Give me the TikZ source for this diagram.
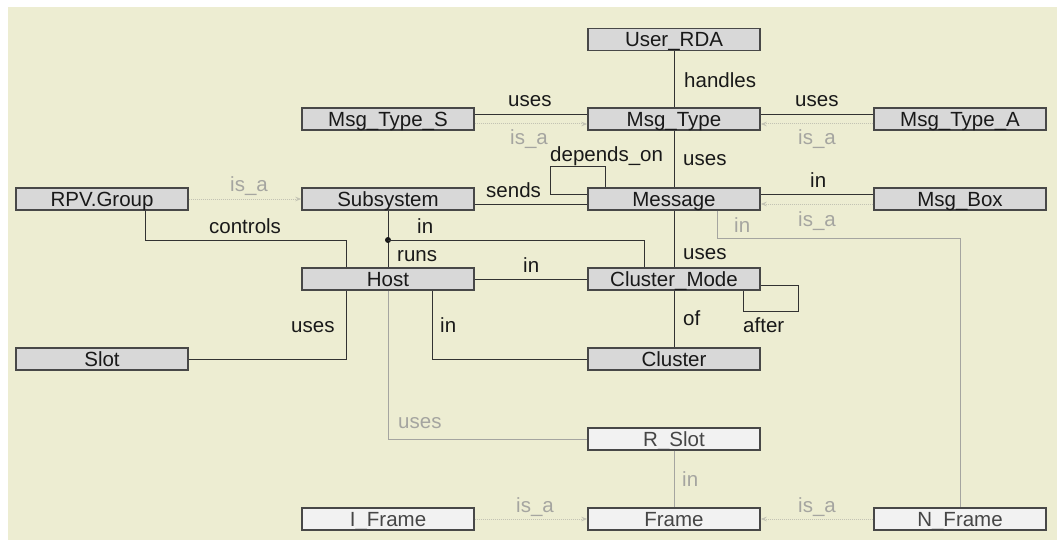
\documentclass[tikz,border=0pt]{standalone}
\usepackage{fontspec}
\setmainfont{Liberation Sans}
\usetikzlibrary{arrows.meta}

\definecolor{bg}{RGB}{237,237,210}
\definecolor{boxdark}{RGB}{216,216,216}
\definecolor{boxlight}{RGB}{242,242,242}
\definecolor{edge}{RGB}{72,72,72}
\definecolor{ink}{RGB}{25,25,25}
\definecolor{wire}{RGB}{50,50,50}
\definecolor{weakink}{RGB}{70,70,70}
\definecolor{fade}{RGB}{165,165,160}
\definecolor{isaline}{RGB}{195,195,180}

\tikzset{
  entity/.style={rectangle, draw=edge, line width=1.4pt, minimum width=172pt,
    minimum height=22pt, inner sep=0pt, text height=17pt, text depth=2pt,
    font=\fontsize{20.5}{24}\selectfont},
  strong/.style={entity, fill=boxdark, text=ink},
  weak/.style={entity, fill=boxlight, text=weakink},
  rel/.style={draw=wire, line width=0.9pt},
  relgray/.style={draw=fade, line width=1pt},
  isa/.style={draw=isaline, line width=1pt, dash pattern=on 1pt off 1pt,
    -{Stealth[length=6pt,width=4.5pt]}},
  lbl/.style={anchor=base west, inner sep=0pt, font=\fontsize{20.5}{24}\selectfont, text=ink},
  lblgray/.style={lbl, text=fade},
}

\begin{document}
\begin{tikzpicture}[x=1pt, y=-1pt]
  % canvas
  \useasboundingbox (0,0) rectangle (1059,540);
  \fill[white] (0,0) rectangle (1059,540);
  \fill[bg] (8,7) rectangle (1057,540);

  % entities
  \node[strong] (ur)   at (674,39.5) {User\_RDA};
  \node[strong] (mts)  at (388,119) {Msg\_Type\_S};
  \node[strong] (mt)   at (674,119) {Msg\_Type};
  \node[strong] (mta)  at (960,119) {Msg\_Type\_A};
  \node[strong] (rpv)  at (102,199) {RPV.Group};
  \node[strong] (sub)  at (388,199) {Subsystem};
  \node[strong] (msg)  at (674,199) {Message};
  \node[strong] (mb)   at (960,199) {Msg\_Box};
  \node[strong] (host) at (388,279) {Host};
  \node[strong] (cm)   at (674,279) {Cluster\_Mode};
  \node[strong] (slot) at (102,359) {Slot};
  \node[strong] (cl)   at (674,359) {Cluster};
  \node[weak]   (rs)   at (674,439) {R\_Slot};
  \node[weak]   (ifr)  at (388,519) {I\_Frame};
  \node[weak]   (fr)   at (674,519) {Frame};
  \node[weak]   (nf)   at (960,519) {N\_Frame};

  % relations
  \draw[rel] (ur) -- (mt);
  \draw[rel] ([yshift=5pt]mts.east) -- ([yshift=5pt]mt.west);
  \draw[isa] ([yshift=-5pt]mts.east) -- ([yshift=-5pt]mt.west);
  \draw[rel] ([yshift=5pt]mta.west) -- ([yshift=5pt]mt.east);
  \draw[isa] ([yshift=-5pt]mta.west) -- ([yshift=-5pt]mt.east);
  \draw[rel] (mt) -- (msg);
  \draw[rel] ([xshift=-69pt]msg.north) -- ++(0,-21) -- ++(-55,0) |- ([yshift=5pt]msg.west);
  \draw[rel] ([yshift=-5pt]sub.east) -- ([yshift=-5pt]msg.west);
  \draw[rel] ([yshift=5pt]mb.west) -- ([yshift=5pt]msg.east);
  \draw[isa] ([yshift=-5pt]mb.west) -- ([yshift=-5pt]msg.east);
  \draw[relgray] ([xshift=43pt]msg.south) |- (960,238) -- (nf.north);
  \draw[isa] (rpv) -- (sub);
  \draw[rel] ([xshift=43pt]rpv.south) |- (346,240) -- ([xshift=-42pt]host.north);
  \draw[rel] (slot.east) -| ([xshift=-42pt]host.south);
  \draw[rel] (sub) -- (host);
  \coordinate (jn) at (388,240);
  \fill[ink] (jn) circle (3pt);
  \draw[rel] (jn) -| ([xshift=-30pt]cm.north);
  \draw[rel] (host) -- (cm);
  \draw[rel] ([xshift=44pt]host.south) |- (cl.west);
  \draw[rel] (msg) -- (cm);
  \draw[rel] (cm) -- (cl);
  \draw[rel] ([yshift=-6pt]cm.east) -- ++(38,0) -- ++(0,26) -| ([xshift=69pt]cm.south);
  \draw[relgray] (host.south) |- (rs.west);
  \draw[relgray] (rs) -- (fr);
  \draw[isa] (ifr) -- (fr);
  \draw[isa] (nf) -- (fr);

  % relation labels
  \node[lbl] (t1) at (684,88) {handles};
  \node[lbl] (t2) at (508,107) {uses};
  \node[lblgray] (t3) at (510,145) {is\_a};
  \node[lbl] (t4) at (795,107) {uses};
  \node[lblgray] (t5) at (798,145) {is\_a};
  \node[lbl] (t6) at (683,166) {uses};
  \node[lbl] (t7) at (550,162) {depends\_on};
  \node[lbl] (t8) at (810,187) {in};
  \node[lblgray] (t9) at (798,226) {is\_a};
  \node[lblgray] (t10) at (734,232) {in};
  \node[lbl] (t11) at (683,259) {uses};
  \node[lbl] (t12) at (486,197) {sends};
  \node[lblgray] (t13) at (230,192) {is\_a};
  \node[lbl] (t14) at (209,233) {controls};
  \node[lbl] (t15) at (417,233) {in};
  \node[lbl] (t16) at (397,261) {runs};
  \node[lbl] (t17) at (523,272) {in};
  \node[lbl] (t18) at (291,332) {uses};
  \node[lbl] (t19) at (440,332) {in};
  \node[lbl] (t20) at (683,325) {of};
  \node[lbl] (t21) at (743,332) {after};
  \node[lblgray] (t22) at (398,428) {uses};
  \node[lblgray] (t23) at (682,486) {in};
  \node[lblgray] (t24) at (516,512) {is\_a};
  \node[lblgray] (t25) at (798,512) {is\_a};
\end{tikzpicture}
\end{document}
